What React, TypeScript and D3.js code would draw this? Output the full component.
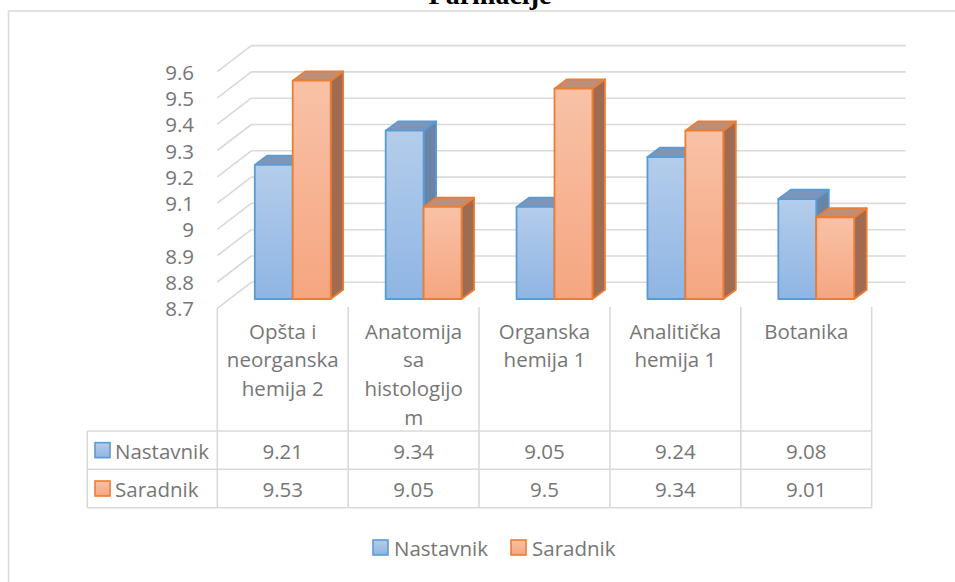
import React from "react";
import * as d3 from "d3";

const categories = [
  "Opšta i neorganska hemija 2",
  "Anatomija sa histologijom",
  "Organska hemija 1",
  "Analitička hemija 1",
  "Botanika",
];
const categoryLabelLines = [
  ["Opšta i", "neorganska", "hemija 2"],
  ["Anatomija", "sa", "histologijo", "m"],
  ["Organska", "hemija 1"],
  ["Analitička", "hemija 1"],
  ["Botanika"],
];
const seriesNames = ["Nastavnik", "Saradnik"];
const nastavnik = [9.21, 9.34, 9.05, 9.24, 9.08];
const saradnik = [9.53, 9.05, 9.5, 9.34, 9.01];
const valueLabels = [
  ["9.21", "9.34", "9.05", "9.24", "9.08"],
  ["9.53", "9.05", "9.5", "9.34", "9.01"],
];
const yTicks = [8.7, 8.8, 8.9, 9, 9.1, 9.2, 9.3, 9.4, 9.5, 9.6];
const yTickLabels = ["8.7", "8.8", "8.9", "9", "9.1", "9.2", "9.3", "9.4", "9.5", "9.6"];
const title = "Farmacije";

const W = 955;
const H = 582;
const FONT = "'Open Sans', sans-serif";
const TEXT = "#767676";
const GRID = "#d9d9d9";

const FRONT_LEFT = 217.3;
const FRONT_RIGHT = 871.7;
const WALL_DX = 34;
const WALL_DY = -26;
const BAR_OFF_DX = 10;
const BAR_OFF_DY = -9.3;
const BAR_DX = 12.5;
const BAR_DY = -9.3;

const seriesStyle = [
  { stroke: "#5b9bd5", top: "#7d96b7", side: "#6a84a6", g1: "#b4cdeb", g2: "#8fb5e3" },
  { stroke: "#ed7d31", top: "#bd8e78", side: "#a06b53", g1: "#f8c2a7", g2: "#f5a681" },
];

export default function App() {
  const series = [nastavnik, saradnik];
  const x = d3.scaleBand<string>().domain(categories).range([FRONT_LEFT, FRONT_RIGHT]).padding(0);
  const y = d3.scaleLinear().domain([8.7, 9.6]).range([308.3, 71.6]);
  const bw = x.bandwidth() / 3.45;
  const groupPad = (x.bandwidth() - 2 * bw) / 2;
  const base = y(8.7);

  const rowLines = [431, 469.3, 507.7];
  const tableLeft = 87.3;
  const colEdges = [FRONT_LEFT, ...categories.map((c) => (x(c) as number) + x.bandwidth())];

  return (
    <svg
      width={W}
      height={H}
      style={{ position: "absolute", left: 0, top: 0, background: "#fff" }}
      fontFamily={FONT}
    >
      <defs>
        {seriesStyle.map((s, i) => (
          <linearGradient key={i} id={`grad${i}`} x1="0" y1="0" x2="0" y2="1">
            <stop offset="0%" stopColor={s.g1} />
            <stop offset="100%" stopColor={s.g2} />
          </linearGradient>
        ))}
      </defs>
      <rect x={0} y={0} width={W} height={H} fill="#fff" />
      <text
        x={490}
        y={4}
        textAnchor="middle"
        fontFamily="'Liberation Serif', serif"
        fontWeight="bold"
        fontSize={28}
        fill="#000"
      >
        {title}
      </text>
      <rect x={8.5} y={11} width={1200} height={1000} fill="none" stroke={GRID} strokeWidth={1.5} />

      {/* gridlines: back wall + side wall */}
      {yTicks.map((v, i) => {
        const yf = y(v);
        const yb = yf + WALL_DY;
        return (
          <g key={i} stroke={GRID} strokeWidth={1.6} fill="none">
            <line x1={FRONT_LEFT + WALL_DX} y1={yb} x2={FRONT_RIGHT + WALL_DX} y2={yb} />
            <line x1={FRONT_LEFT + WALL_DX} y1={yb} x2={FRONT_LEFT} y2={yf} />
          </g>
        );
      })}

      {/* y labels */}
      {yTicks.map((v, i) => (
        <text
          key={i}
          x={194}
          y={y(v)}
          textAnchor="end"
          dominantBaseline="central"
          fontSize={20.5}
          fill={TEXT}
        >
          {yTickLabels[i]}
        </text>
      ))}

      {/* bars */}
      {categories.map((c, ci) => (
        <g key={c}>
          {series.map((vals, si) => {
            const s = seriesStyle[si];
            const x0 = (x(c) as number) + groupPad + si * bw + BAR_OFF_DX;
            const top = y(vals[ci]) + BAR_OFF_DY;
            const bot = base + BAR_OFF_DY;
            const topPts = [
              [x0, top],
              [x0 + bw, top],
              [x0 + bw + BAR_DX, top + BAR_DY],
              [x0 + BAR_DX, top + BAR_DY],
            ];
            const sidePts = [
              [x0 + bw, top],
              [x0 + bw + BAR_DX, top + BAR_DY],
              [x0 + bw + BAR_DX, bot + BAR_DY],
              [x0 + bw, bot],
            ];
            return (
              <g key={si} stroke={s.stroke} strokeWidth={1.8} strokeLinejoin="round">
                <polygon points={sidePts.map((p) => p.join(",")).join(" ")} fill={s.side} />
                <polygon points={topPts.map((p) => p.join(",")).join(" ")} fill={s.top} />
                <rect x={x0} y={top} width={bw} height={bot - top} fill={`url(#grad${si})`} />
              </g>
            );
          })}
        </g>
      ))}

      {/* data table */}
      <g stroke={GRID} strokeWidth={1.6}>
        {rowLines.map((ry, i) => (
          <line key={i} x1={tableLeft} y1={ry} x2={FRONT_RIGHT} y2={ry} />
        ))}
        <line x1={tableLeft} y1={rowLines[0]} x2={tableLeft} y2={rowLines[2]} />
        {colEdges.map((cx, i) => (
          <line key={i} x1={cx} y1={i === 0 ? base : 307} x2={cx} y2={rowLines[2]} />
        ))}
      </g>
      {categories.map((c, ci) => {
        const cx = (x(c) as number) + x.bandwidth() / 2;
        return (
          <g key={c}>
            {categoryLabelLines[ci].map((ln, li) => (
              <text
                key={li}
                x={cx}
                y={330.7 + li * 28.7}
                textAnchor="middle"
                dominantBaseline="central"
                fontSize={20.5}
                fill={TEXT}
              >
                {ln}
              </text>
            ))}
            {series.map((_, si) => (
              <text
                key={si}
                x={cx}
                y={(rowLines[si] + rowLines[si + 1]) / 2 + 0.5}
                textAnchor="middle"
                dominantBaseline="central"
                fontSize={20.5}
                fill={TEXT}
              >
                {valueLabels[si][ci]}
              </text>
            ))}
          </g>
        );
      })}
      {seriesNames.map((n, si) => {
        const cy = (rowLines[si] + rowLines[si + 1]) / 2;
        const s = seriesStyle[si];
        return (
          <g key={n}>
            <rect x={95} y={cy - 7.5} width={15} height={15} fill={`url(#grad${si})`} stroke={s.stroke} strokeWidth={1.6} />
            <text x={115} y={cy + 0.5} dominantBaseline="central" fontSize={20.5} fill={TEXT}>
              {n}
            </text>
          </g>
        );
      })}

      {/* legend */}
      {seriesNames.map((n, si) => {
        const lx = [373, 511][si];
        const s = seriesStyle[si];
        return (
          <g key={n}>
            <rect x={lx} y={540} width={15} height={15} fill={`url(#grad${si})`} stroke={s.stroke} strokeWidth={1.6} />
            <text x={lx + 21} y={548} dominantBaseline="central" fontSize={20.5} fill={TEXT}>
              {n}
            </text>
          </g>
        );
      })}
    </svg>
  );
}
